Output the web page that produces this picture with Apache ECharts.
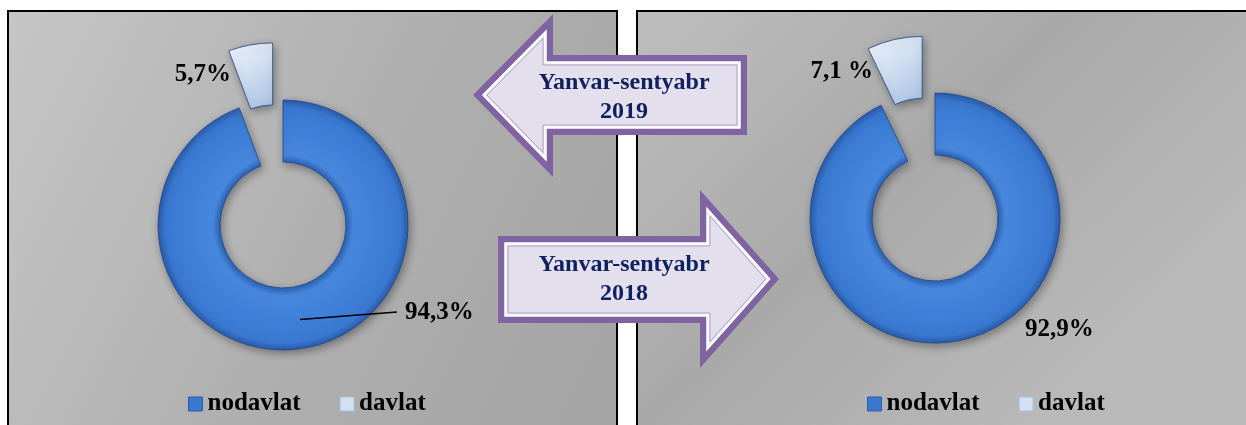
<!DOCTYPE html>
<html>
<head>
<meta charset="utf-8">
<script src="https://cdn.jsdelivr.net/npm/echarts@6/dist/echarts.min.js"></script>
<style>
  html, body { margin: 0; padding: 0; background: #fff; }
  #main { width: 1246px; height: 425px; }
</style>
</head>
<body>
<div id="main"></div>
<script>
// ulush, %
const categories = ['nodavlat', 'davlat']
const values2019 = [94.3, 5.7]
const values2018 = [92.9, 7.1]
const labels2019 = ['94,3%', '5,7%']
const labels2018 = ['92,9%', '7,1 %']
const periods = ['Yanvar-sentyabr\n2019', 'Yanvar-sentyabr\n2018']

const serif = '"Liberation Serif", "Times New Roman", serif'
const leftCenter = [283, 225]
const rightCenter = [935, 218]
const labelFont = 'bold 25px ' + serif

const blue = {
  type: 'radial', x: 0.5, y: 0.5, r: 0.5,
  colorStops: [
    { offset: 0.5, color: '#2c62b2' },
    { offset: 0.56, color: '#4787de' },
    { offset: 0.78, color: '#3e80d9' },
    { offset: 0.94, color: '#3978d1' },
    { offset: 1, color: '#2a5ba8' }
  ]
}
const light = {
  type: 'linear', x: 0, y: 0, x2: 1, y2: 1,
  colorStops: [
    { offset: 0, color: '#f2f6fc' },
    { offset: 0.5, color: '#cddcf0' },
    { offset: 1, color: '#a6bfdf' }
  ]
}

// inset polygon by d pixels
function inset (pts, d) {
  const n = pts.length
  let area = 0
  for (let i = 0; i < n; i++) {
    const a = pts[i], b = pts[(i + 1) % n]
    area += a[0] * b[1] - b[0] * a[1]
  }
  const sgn = area > 0 ? 1 : -1
  const lines = pts.map((a, i) => {
    const b = pts[(i + 1) % n]
    const dx = b[0] - a[0], dy = b[1] - a[1]
    const len = Math.hypot(dx, dy)
    const nx = -dy / len * sgn, ny = dx / len * sgn
    return { p: [a[0] + nx * d, a[1] + ny * d], v: [dx, dy] }
  })
  return pts.map((_, i) => {
    const l1 = lines[(i - 1 + n) % n], l2 = lines[i]
    const cr = l1.v[0] * l2.v[1] - l1.v[1] * l2.v[0]
    const wx = l2.p[0] - l1.p[0], wy = l2.p[1] - l1.p[1]
    const t = (wx * l2.v[1] - wy * l2.v[0]) / cr
    return [l1.p[0] + l1.v[0] * t, l1.p[1] + l1.v[1] * t]
  })
}

function arrow (pts, text, textPos) {
  return [
    { type: 'polygon', z: 20, shape: { points: pts }, style: { fill: '#8064a2' } },
    { type: 'polygon', z: 21, shape: { points: inset(pts, 7.5) }, style: { fill: '#e4dfec', stroke: '#ffffff', lineWidth: 2.5 } },
    { type: 'polygon', z: 22, shape: { points: inset(pts, 10) }, style: { fill: '#e4dfec', stroke: '#b3a2c8', lineWidth: 1 } },
    {
      type: 'text', z: 23, x: textPos[0], y: textPos[1],
      style: {
        text: text, fill: '#0f2160', font: 'bold 24px ' + serif,
        align: 'center', verticalAlign: 'middle', lineHeight: 29
      }
    }
  ]
}

// label of the pulled-out slice (text from the labels array)
function sliceLabel (text, center, off) {
  return {
    type: 'text', z: 30, x: center[0] + off[0], y: center[1] + off[1],
    style: { text: text, fill: '#000', font: labelFont, align: 'right', verticalAlign: 'middle' }
  }
}

// leader line from the middle of the ring to the label
function leader (values, center, labelOff) {
  const sum = values.reduce((a, b) => a + b, 0)
  const mid = (90 - values[0] / sum * 180) * Math.PI / 180
  const r = 96
  return {
    type: 'polyline', z: 30,
    shape: {
      points: [
        [center[0] + r * Math.cos(mid), center[1] - r * Math.sin(mid)],
        [center[0] + labelOff[0] - 8, center[1] + labelOff[1] - 1]
      ]
    },
    style: { stroke: '#000', lineWidth: 1.5 }
  }
}

// nodavlat label offset from the donut centre
function makePie (values, labels, center, off) {
  return {
    type: 'pie',
    center: center,
    radius: [63, 125],
    startAngle: 90,
    clockwise: true,
    selectedMode: 'single',
    selectedOffset: 58,
    animation: false,
    itemStyle: {
      borderColor: 'rgba(30,70,140,0.8)',
      borderWidth: 1,
      shadowBlur: 8,
      shadowOffsetX: 2,
      shadowOffsetY: 3,
      shadowColor: 'rgba(0,0,0,0.35)'
    },
    label: {
      show: true,
      position: 'outside',
      formatter: p => labels[p.dataIndex],
      color: '#000',
      fontFamily: serif,
      fontWeight: 'bold',
      fontSize: 25
    },
    labelLine: { show: false },
    emphasis: { disabled: true },
    labelLayout: function (p) {
      if (p.dataIndex !== 0) return {}
      return { x: center[0] + off[0], y: center[1] + off[1], align: 'left', verticalAlign: 'middle' }
    },
    data: categories.map((name, i) => ({
      name: name,
      value: values[i],
      selected: i === 1,
      itemStyle: { color: i === 0 ? blue : light },
      label: { show: i === 0 }
    }))
  }
}

const legendBase = {
  orient: 'horizontal',
  top: 385,
  itemWidth: 14,
  itemHeight: 14,
  itemGap: 39,
  icon: 'rect',
  selectedMode: false,
  textStyle: { color: '#000', fontFamily: serif, fontWeight: 'bold', fontSize: 25, lineHeight: 28 },
  data: [
    { name: categories[0], itemStyle: { color: '#3a78cf', borderColor: '#2a5ca8', borderWidth: 1 } },
    { name: categories[1], itemStyle: { color: '#d3e0f1', borderColor: '#a9bedc', borderWidth: 1 } }
  ]
}

const leftOff = [122, 88]
const rightOff = [90, 112]

const chart = echarts.init(document.getElementById('main'))
chart.setOption({
  backgroundColor: '#ffffff',
  animation: false,
  legend: [
    Object.assign({}, legendBase, { left: 183 }),
    Object.assign({}, legendBase, { left: 862 })
  ],
  graphic: [
    {
      type: 'rect', z: 0, shape: { x: 8, y: 11, width: 609, height: 430 },
      style: {
        stroke: '#000', lineWidth: 2,
        fill: {
          type: 'linear', x: 0, y: 0, x2: 1, y2: 0.7,
          colorStops: [{ offset: 0, color: '#c6c6c6' }, { offset: 0.55, color: '#b0b0b0' }, { offset: 1, color: '#a5a5a5' }]
        }
      }
    },
    {
      type: 'rect', z: 0, shape: { x: 637, y: 11, width: 625, height: 430 },
      style: {
        stroke: '#000', lineWidth: 2,
        fill: {
          type: 'linear', x: 0, y: 0.1, x2: 0.6, y2: 1,
          colorStops: [{ offset: 0, color: '#bcbcbc' }, { offset: 0.5, color: '#a9a9a9' }, { offset: 1, color: '#b9b9b9' }]
        }
      }
    },
    ...arrow([[473, 95], [553, 14], [553, 55], [747, 55], [747, 135], [553, 135], [553, 177]], periods[0], [624, 97]),
    ...arrow([[498, 236], [700, 236], [700, 190], [779, 279], [700, 368], [700, 323], [498, 323]], periods[1], [624, 279]),
    sliceLabel(labels2019[1], leftCenter, [-52, -150]),
    sliceLabel(labels2018[1], rightCenter, [-62, -146]),
    leader(values2019, leftCenter, leftOff)
  ],
  series: [
    makePie(values2019, labels2019, leftCenter, leftOff),
    makePie(values2018, labels2018, rightCenter, rightOff)
  ]
})
</script>
</body>
</html>
